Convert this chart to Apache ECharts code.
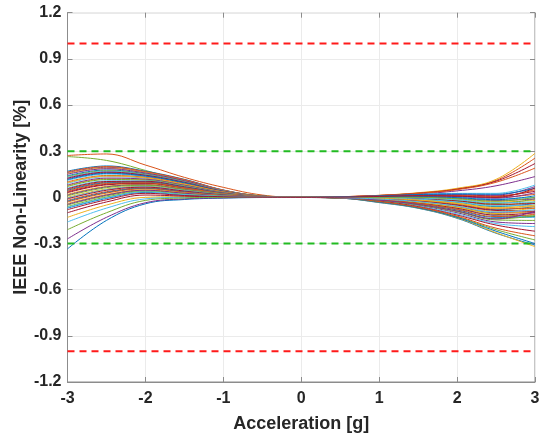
<!DOCTYPE html>
<html>
<head>
<meta charset="utf-8">
<script src="https://cdn.jsdelivr.net/npm/echarts@6/dist/echarts.min.js"></script>
<style>
html,body{margin:0;padding:0;background:#fff;}
#chart{width:542px;height:437px;}
</style>
</head>
<body>
<div id="chart"></div>
<script>
// Acceleration sample points [g]
const acceleration = [-3, -2.5, -2, -1.5, -1, -0.5, 0, 0.5, 1, 1.5, 2, 2.5, 3];

// IEEE non-linearity [%] for each device (one row per curve, values at the acceleration points)
const nonLinearity = [
  [-0.335,-0.15,-0.042,-0.014,-0.005,-0.001,0,-0.001,-0.005,-0.014,-0.033,-0.06,-0.04],
  [0.272,0.282,0.21,0.13,0.065,0.015,0,0.001,0.006,0.01,0.008,0.0,0.02],
  [-0.13,-0.05,0.0,0.004,0.002,0.0,0,0.0,0.0,-0.002,-0.013,-0.03,-0.02],
  [-0.27,-0.13,-0.035,-0.01,-0.003,0.0,0,-0.002,-0.011,-0.03,-0.061,-0.1,-0.1],
  [0.265,0.24,0.175,0.105,0.045,0.01,0,0.0,-0.003,-0.01,-0.026,-0.05,-0.03],
  [-0.16,-0.07,-0.01,0.0,0.001,0.0,0,-0.002,-0.015,-0.038,-0.075,-0.12,-0.13],
  [-0.10,-0.03,0.015,0.008,0.003,0.0,0,0.002,0.007,0.014,0.015,0.01,0.04],
  [0.17,0.204,0.17,0.117,0.048,0.008,0,-0.001,-0.008,-0.022,-0.047,-0.08,-0.06],
  [0.05,0.098,0.101,0.067,0.027,0.004,0,0.004,0.013,0.028,0.055,0.11,0.255],
  [0.0,0.054,0.072,0.046,0.018,0.003,0,0.004,0.013,0.03,0.059,0.117,0.286],
  [0.12,0.16,0.141,0.096,0.039,0.007,0,0.003,0.011,0.022,0.042,0.075,0.135],
  [-0.21,-0.10,-0.02,-0.004,0.0,0.0,0,0.0,-0.001,-0.006,-0.02,-0.04,-0.01],
  [0.09,0.134,0.124,0.083,0.034,0.006,0,0.002,0.01,0.02,0.026,0.026,0.08],
  [0.03,0.081,0.089,0.058,0.023,0.004,0,0.004,0.012,0.027,0.053,0.105,0.22],
  [0.14,0.178,0.153,0.104,0.043,0.007,0,-0.005,-0.034,-0.071,-0.136,-0.233,-0.31],
  [-0.02,0.037,0.061,0.037,0.015,0.002,0,0.003,0.012,0.026,0.05,0.098,0.19],
  [0.075,0.12,0.115,0.077,0.031,0.005,0,-0.005,-0.032,-0.069,-0.133,-0.23,-0.32],
  [0.16,0.195,0.164,0.113,0.046,0.008,0,-0.003,-0.02,-0.052,-0.1,-0.16,-0.17],
  [-0.05,0.01,0.043,0.025,0.009,0.001,0,-0.004,-0.028,-0.066,-0.126,-0.21,-0.277],
  [0.11,0.151,0.135,0.092,0.037,0.006,0,-0.003,-0.022,-0.056,-0.108,-0.17,-0.19],
  [0.035,0.085,0.092,0.06,0.024,0.004,0,-0.004,-0.024,-0.06,-0.115,-0.18,-0.22],
  [-0.07,-0.007,0.032,0.016,0.006,0.001,0,-0.005,-0.031,-0.068,-0.13,-0.22,-0.30],
  [0.165,0.2,0.167,0.115,0.047,0.008,0,-0.004,-0.027,-0.064,-0.122,-0.2,-0.25],
  [0.155,0.19,0.161,0.11,0.045,0.007,0,-0.001,-0.01,-0.026,-0.054,-0.09,-0.07],
  [0.15,0.186,0.158,0.109,0.044,0.007,0,0.002,0.008,0.016,0.018,0.015,0.07],
  [0.135,0.173,0.15,0.102,0.042,0.007,0,-0.002,-0.013,-0.034,-0.068,-0.11,-0.12],
  [0.13,0.169,0.147,0.1,0.041,0.007,0,0.001,0.004,0.006,0.001,-0.01,0.0],
  [0.125,0.164,0.144,0.098,0.04,0.007,0,0.0,-0.002,-0.008,-0.023,-0.045,-0.04],
  [0.115,0.156,0.138,0.094,0.038,0.006,0,-0.003,-0.017,-0.042,-0.082,-0.13,-0.125],
  [0.10,0.142,0.13,0.088,0.036,0.006,0,0.001,0.006,0.012,0.012,0.005,0.05],
  [0.095,0.138,0.127,0.085,0.035,0.006,0,-0.001,-0.005,-0.016,-0.037,-0.065,-0.06],
  [0.08,0.125,0.118,0.079,0.032,0.005,0,0.001,0.002,0.002,-0.006,-0.02,-0.01],
  [0.07,0.116,0.112,0.075,0.03,0.005,0,-0.003,-0.018,-0.046,-0.089,-0.14,-0.12],
  [0.06,0.107,0.107,0.071,0.029,0.005,0,0.0,0.0,-0.004,-0.016,-0.035,-0.03],
  [0.055,0.103,0.104,0.069,0.028,0.005,0,-0.002,-0.014,-0.036,-0.071,-0.115,-0.1],
  [0.045,0.094,0.098,0.065,0.026,0.004,0,0.002,0.009,0.018,0.022,0.02,0.06],
  [0.04,0.09,0.095,0.062,0.025,0.004,0,-0.001,-0.007,-0.02,-0.044,-0.075,-0.07],
  [0.02,0.072,0.084,0.054,0.022,0.004,0,-0.002,-0.012,-0.032,-0.064,-0.105,-0.09],
  [0.015,0.068,0.081,0.052,0.021,0.003,0,0.001,0.005,0.008,0.005,-0.005,0.03],
  [0.01,0.063,0.078,0.05,0.02,0.003,0,-0.003,-0.019,-0.049,-0.093,-0.147,-0.15],
  [-0.005,0.05,0.069,0.044,0.017,0.003,0,0.0,-0.004,-0.012,-0.03,-0.055,-0.05],
  [-0.01,0.046,0.066,0.041,0.016,0.003,0,-0.001,-0.009,-0.024,-0.051,-0.085,-0.09],
  [-0.025,0.032,0.058,0.035,0.014,0.002,0,0.001,0.003,0.004,-0.002,-0.015,0.01],
  [-0.03,0.028,0.055,0.033,0.013,0.002,0,-0.003,-0.016,-0.04,-0.078,-0.125,-0.11],
  [-0.04,0.019,0.049,0.029,0.011,0.002,0,-0.001,-0.006,-0.018,-0.04,-0.07,-0.05],
  [-0.045,0.015,0.046,0.027,0.01,0.002,0,-0.003,-0.018,-0.046,-0.089,-0.14,-0.09],
  [-0.06,0.002,0.038,0.02,0.008,0.001,0,0.0,0.001,0.0,-0.009,-0.025,0.0],
  [-0.065,-0.003,0.035,0.018,0.007,0.001,0,-0.002,-0.011,-0.028,-0.057,-0.095,-0.08],
  [-0.08,-0.016,0.026,0.012,0.004,0.001,0,0.001,0.006,0.01,0.008,0.0,0.06]
];

// Limit lines [%]
const outerLimits = [1, -1];
const innerLimits = [0.3, -0.3];

// Tick labels
const xTickLabels = ['-3', '-2', '-1', '0', '1', '2', '3'];
const yTickLabels = ['-1.2', '-0.9', '-0.6', '-0.3', '0', '0.3', '0.6', '0.9', '1.2'];

const palette = ['#0072BD', '#D95319', '#EDB120', '#7E2F8E', '#77AC30', '#4DBEEE', '#A2142F'];

const xMin = -3, xMax = 3, xStep = 1;
const yMin = -1.2, yMax = 1.2, yStep = 0.3;
const font = '"Liberation Sans", Arial, Helvetica, sans-serif';
const textColor = '#262626';
const frameColor = '#8c8c8c';

const series = [];
nonLinearity.forEach(function (row, i) {
  series.push({
    type: 'line',
    data: row.map(function (v, j) { return [acceleration[j], v]; }),
    showSymbol: false,
    smooth: 0.4,
    lineStyle: { width: 1, color: palette[i % palette.length] },
    itemStyle: { color: palette[i % palette.length] },
    silent: true,
    z: 2
  });
});
outerLimits.forEach(function (v) {
  series.push({
    type: 'line',
    data: [[xMin, v], [xMax, v]],
    showSymbol: false,
    lineStyle: { width: 2, color: '#ff1a1a', type: [7, 5] },
    silent: true,
    z: 3
  });
});
innerLimits.forEach(function (v) {
  series.push({
    type: 'line',
    data: [[xMin, v], [xMax, v]],
    showSymbol: false,
    lineStyle: { width: 2, color: '#22bb22', type: [7, 5] },
    silent: true,
    z: 3
  });
});

const chart = echarts.init(document.getElementById('chart'), null, { renderer: 'canvas' });
chart.setOption({
  animation: false,
  backgroundColor: '#ffffff',
  grid: {
    left: 67.5, right: 7, top: 12.7, bottom: 55,
    show: true, borderColor: frameColor, borderWidth: 1,
    containLabel: false,
    outerBoundsMode: 'none'
  },
  xAxis: [{
    type: 'value', min: xMin, max: xMax, interval: xStep,
    name: 'Acceleration [g]', nameLocation: 'middle', nameGap: 33, nameMoveOverlap: false,
    nameTextStyle: { fontFamily: font, fontSize: 18, fontWeight: 'bold', color: textColor },
    axisLine: { show: true, onZero: false, lineStyle: { color: frameColor, width: 1 } },
    axisTick: { show: true, inside: true, length: 5, lineStyle: { color: frameColor } },
    axisLabel: {
      margin: 9, fontFamily: font, fontSize: 16, fontWeight: 'bold', color: textColor,
      formatter: function (v) { return xTickLabels[Math.round((v - xMin) / xStep)]; }
    },
    splitLine: { show: true, lineStyle: { color: '#ebebeb', width: 1 } }
  }, {
    type: 'value', min: xMin, max: xMax, interval: xStep, position: 'top',
    axisLine: { show: false, onZero: false },
    axisTick: { show: true, inside: true, length: 5, lineStyle: { color: frameColor } },
    axisLabel: { show: false }, splitLine: { show: false }
  }],
  yAxis: [{
    type: 'value', min: yMin, max: yMax, interval: yStep,
    name: 'IEEE Non-Linearity [%]', nameLocation: 'middle', nameGap: 37, nameRotate: 90, nameMoveOverlap: false,
    nameTextStyle: { fontFamily: font, fontSize: 18, fontWeight: 'bold', color: textColor },
    axisLine: { show: true, onZero: false, lineStyle: { color: frameColor, width: 1 } },
    axisTick: { show: true, inside: true, length: 5, lineStyle: { color: frameColor } },
    axisLabel: {
      margin: 6, fontFamily: font, fontSize: 16, fontWeight: 'bold', color: textColor,
      formatter: function (v) { return yTickLabels[Math.round((v - yMin) / yStep)]; }
    },
    splitLine: { show: true, lineStyle: { color: '#ebebeb', width: 1 } }
  }, {
    type: 'value', min: yMin, max: yMax, interval: yStep, position: 'right',
    axisLine: { show: false, onZero: false },
    axisTick: { show: true, inside: true, length: 5, lineStyle: { color: frameColor } },
    axisLabel: { show: false }, splitLine: { show: false }
  }],
  series: series
});
</script>
</body>
</html>
